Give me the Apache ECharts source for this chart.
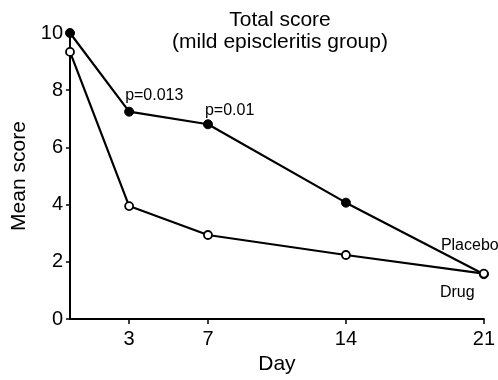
<!DOCTYPE html>
<html>
<head>
<meta charset="utf-8">
<script src="https://cdn.jsdelivr.net/npm/echarts@6/dist/echarts.min.js"></script>
<style>html,body{margin:0;padding:0;background:#fff}</style>
</head>
<body>
<div id="main" style="width:498px;height:380px;"></div>
<script>
// data
var days = [0, 3, 7, 14, 21];
var dayTicks = [3, 7, 14, 21];
var placebo = [10.0, 7.25, 6.81, 4.07, 1.57];
var drug = [9.34, 3.95, 2.94, 2.24, 1.59];
var pValues = ['', 'p=0.013', 'p=0.01', '', ''];

var font = 'Liberation Sans';
var chart = echarts.init(document.getElementById('main'));

// placebo points, with the p value over days 3 and 7 and the name at the end
var placeboData = [];
for (var i = 0; i < days.length; i++) {
    var item = { value: [days[i], placebo[i]] };
    if (pValues[i]) {
        item.label = {
            show: true, formatter: pValues[i], position: 'top', align: 'left',
            offset: i == 1 ? [-4, 2] : [-3, 4]
        };
    }
    if (i == days.length - 1) {
        item.label = {
            show: true, formatter: 'Placebo', position: [-38, -16],
            align: 'left', verticalAlign: 'bottom'
        };
    }
    placeboData.push(item);
}
var drugData = [];
for (var j = 0; j < days.length; j++) {
    var d = { value: [days[j], drug[j]] };
    if (j == days.length - 1) {
        d.label = {
            show: true, formatter: 'Drug', position: [-39, 32],
            align: 'left', verticalAlign: 'bottom'
        };
    }
    drugData.push(d);
}

var option = {
    animation: false,
    backgroundColor: '#fff',
    textStyle: { fontFamily: font, color: '#000' },
    title: {
        text: 'Total score\n(mild episcleritis group)',
        left: 275, top: 4, textAlign: 'center',
        textStyle: { fontFamily: font, fontSize: 21, fontWeight: 'normal', color: '#000', lineHeight: 22 }
    },
    grid: { left: 70, right: 13, top: 33, bottom: 53 },
    xAxis: {
        type: 'value', min: 0, max: 21,
        name: 'Day', nameLocation: 'middle', nameGap: 26,
        nameTextStyle: { fontSize: 21, color: '#000', fontFamily: font },
        axisLine: { lineStyle: { color: '#000', width: 2 } },
        axisTick: { show: true, length: 5, customValues: dayTicks, lineStyle: { color: '#000', width: 1.5 } },
        axisLabel: { customValues: dayTicks, fontSize: 20, color: '#000', margin: 10, fontFamily: font },
        splitLine: { show: false }
    },
    yAxis: {
        type: 'value', min: 0, max: 10, interval: 2,
        name: 'Mean score', nameLocation: 'middle', nameGap: 39, nameRotate: 90,
        nameTextStyle: { fontSize: 21, color: '#000', fontFamily: font },
        axisLine: { show: true, lineStyle: { color: '#000', width: 2 } },
        axisTick: { show: true, length: 4, lineStyle: { color: '#000', width: 1.5 } },
        axisLabel: { fontSize: 20, color: '#000', margin: 7, fontFamily: font },
        splitLine: { show: false }
    },
    series: [
        {
            name: 'Placebo', type: 'line', data: placeboData,
            symbol: 'circle', symbolSize: 9, showAllSymbol: true,
            lineStyle: { color: '#000', width: 2.2 },
            itemStyle: { color: '#000', borderColor: '#000' },
            label: { color: '#000', fontSize: 16, fontFamily: font },
            z: 2
        },
        {
            name: 'Drug', type: 'line', data: drugData,
            symbol: 'circle', symbolSize: 8, showAllSymbol: true,
            lineStyle: { color: '#000', width: 2.2 },
            itemStyle: { color: '#fff', borderColor: '#000', borderWidth: 1.8 },
            label: { color: '#000', fontSize: 16, fontFamily: font },
            z: 3
        }
    ]
};
chart.setOption(option);
</script>
</body>
</html>
